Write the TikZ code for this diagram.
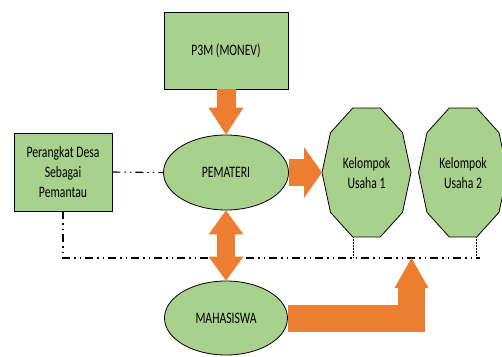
\documentclass[tikz,border=0pt]{standalone}
\usepackage{fontspec}
\setmainfont{Carlito}[FakeStretch=0.73]
\usetikzlibrary{shapes.geometric,arrows.meta,backgrounds}
\definecolor{leafgreen}{HTML}{A9D18E}
\definecolor{flameorange}{HTML}{ED7D31}

\begin{document}
\begin{tikzpicture}[
  x=1pt, y=-1pt,
  every node/.style={font=\fontsize{16}{20}\selectfont},
  box/.style={draw, fill=leafgreen, line width=0.8pt, align=center, inner sep=0pt},
  oval/.style={ellipse, draw, fill=leafgreen, line width=0.8pt, inner sep=0pt},
  group/.style={align=center},
  decagon/.style={draw, fill=leafgreen, line width=0.8pt},
  bigarrow/.style={draw=flameorange},
  linkline/.style={line width=1.1pt, dash pattern=on 8pt off 4pt on 1.5pt off 4pt on 1.5pt off 4pt},
  footline/.style={line width=0.5pt, densely dotted}
]
\useasboundingbox (0,0) rectangle (502,356);

\node[box, minimum width=124pt, minimum height=77pt] (p3m) at (226,50.5) {P3M (MONEV)};
\node[box, minimum width=98pt, minimum height=78pt] (perangkat) at (63,172) {Perangkat Desa\\Sebagai\\Pemantau};
\node[oval, minimum width=125pt, minimum height=75pt] (pemateri) at (226,172.5) {PEMATERI};
\node[oval, minimum width=123pt, minimum height=74pt] (mahasiswa) at (226,318) {MAHASISWA};
\node[group] (k1) at (366.5,172.5) {Kelompok\\Usaha 1};
\node[group] (k2) at (463,172.5) {Kelompok\\Usaha 2};

% decagons behind the group labels
\begin{scope}[on background layer]
\foreach \k in {k1,k2}
  \draw[decagon, shift={(\k.center)}] plot[samples at={0,36,...,324}] (\x:44.5 and 67.8) -- cycle;
\end{scope}

\coordinate (k1tip) at ([xshift=-44.5pt]k1.center);
\coordinate (k1foot) at ([shift={(-13.7,64.5)}]k1.center);
\coordinate (k2foot) at ([shift={(13.7,64.5)}]k2.center);
\coordinate (lineend) at (480,258);
\coordinate (meet) at (411.5,258);

% monitoring lines
\draw[linkline] (perangkat.east) -- (pemateri.west);
\draw[linkline] (perangkat.south) |- (lineend);
\draw[footline] (k1foot) -- (k1foot |- lineend);
\draw[footline] (k2foot) -- (k2foot |- lineend);

% block arrows
\draw[bigarrow, line width=19pt, -{Triangle[length=27pt,width=35pt,line width=0pt]}] (p3m.south) -- (pemateri.north);
\draw[bigarrow, line width=27pt, -{Triangle[length=18pt,width=51pt,line width=0pt]}] (pemateri.east) -- (k1tip);
\draw[bigarrow, line width=18pt, {Triangle[length=24pt,width=35pt,line width=0pt]}-{Triangle[length=24pt,width=35pt,line width=0pt]}] (pemateri.south) -- (mahasiswa.north);
\draw[bigarrow, line width=27pt, -{Triangle[length=30pt,width=34pt,line width=0pt]}] (mahasiswa.east) -| (meet);
\end{tikzpicture}
\end{document}
